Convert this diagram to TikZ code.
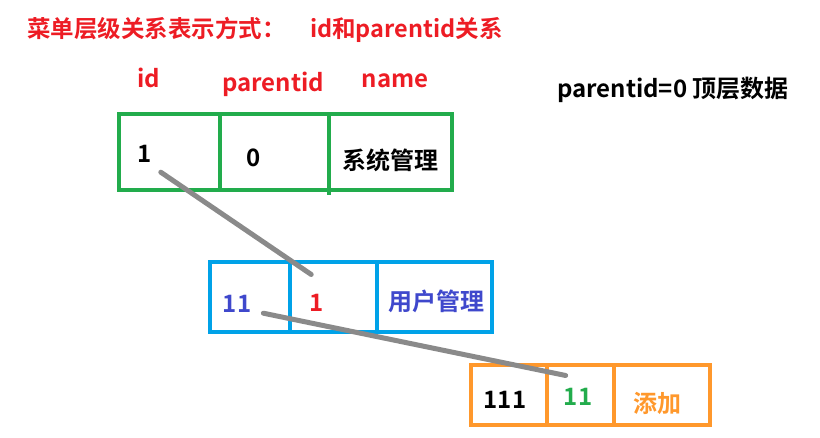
\documentclass[tikz,border=0pt]{standalone}
\usepackage{fontspec}
\setmainfont{Noto Sans CJK SC}[BoldFont={Noto Sans CJK SC Bold}]

\begin{document}
\begin{tikzpicture}[x=1pt,y=-1pt,line cap=round,
% Styles
table line/.style={line width=4pt,line cap=butt},
link line/.style={line width=5pt,draw=linkcolor},
big text/.style={font=\fontsize{24pt}{28pt}\selectfont\bfseries,inner sep=0pt,anchor=base},
title text/.style={big text,anchor=base west,headcolor,font=\fontsize{23.5pt}{28pt}\selectfont\bfseries}]
% Colors
\definecolor{headcolor}{RGB}{237,28,36}
\definecolor{topcolor}{RGB}{34,172,76}
\definecolor{midcolor}{RGB}{0,162,232}
\definecolor{lowcolor}{RGB}{255,152,44}
\definecolor{namecolor}{RGB}{63,72,204}
\definecolor{linkcolor}{RGB}{138,138,138}
\useasboundingbox (0,0) rectangle (820,438);
% Title
\node[title text] (title) at (27,38) {菜单层级关系表示方式：};
\node[title text] (subtitle) at (310,38) {id和parentid关系};
\foreach \x/\y/\n/\t in {149/88/hid/id, 273/92/hpid/parentid, 395/88/hname/name}
    \node[big text,headcolor] (\n) at (\x,\y) {\t};
\node[big text,anchor=base west] (note) at (557,98) {parentid=0 顶层数据};
% Top row
\begin{scope}[table line,draw=topcolor]
    \draw (119,114) rectangle (452,190);
    \draw (220,114) -- (220,190);
    \draw (329,116) -- (329,195);
\end{scope}
\foreach \x/\y/\n/\t in {145/163/g1/1, 254/167/g2/0, 390/170/g3/系统管理}
    \node[big text] (\n) at (\x,\y) {\t};
% Middle row
\begin{scope}[table line,draw=midcolor]
    \draw (210,262) rectangle (492,332);
    \foreach \x in {290,377}
        \draw (\x,262) -- (\x,332);
\end{scope}
\foreach \x/\y/\n/\t/\c in {237/313/b1/11/namecolor, 317/312/b2/1/headcolor, 436/311/b3/用户管理/namecolor}
    \node[big text,text=\c] (\n) at (\x,\y) {\t};
% Bottom row
\begin{scope}[table line,draw=lowcolor]
    \draw (471,365) rectangle (710,425);
    \foreach \x in {547,614}
        \draw (\x,365) -- (\x,425);
\end{scope}
\foreach \x/\y/\n/\t/\c in {505/409/o1/111/black, 578/406/o2/11/topcolor, 657/413/o3/添加/lowcolor}
    \node[big text,text=\c] (\n) at (\x,\y) {\t};
% Links id -> parentid
\draw[link line] ([shift={(8.5,9)}]g1.south east) -- ([shift={(1.5,-20)}]b2.north west);
\draw[link line] ([shift={(12,0)}]b1.south east) -- ([shift={(2,-13)}]o2.north west);
\end{tikzpicture}
\end{document}
